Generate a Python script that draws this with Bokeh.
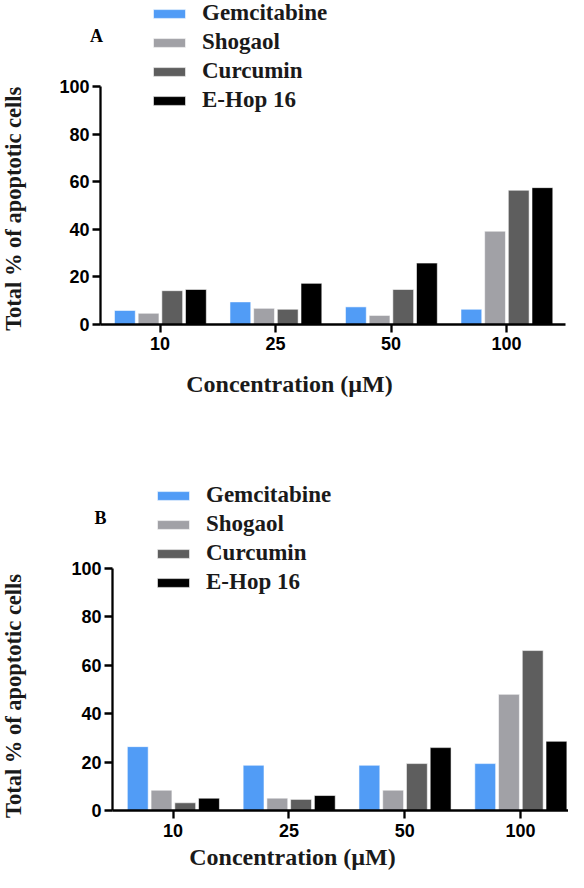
import math
from bokeh.plotting import figure
from bokeh.models import Range1d, FixedTicker, Label
from bokeh.layouts import column
from bokeh.embed import file_html
from bokeh.resources import INLINE

# ---- data ----
categories = ["10", "25", "50", "100"]
series_names = ["Gemcitabine", "Shogaol", "Curcumin", "E-Hop 16"]
series_colors = ["#519cf6", "#a1a1a6", "#5e5e5e", "#000000"]

a_gemcitabine = [5.9, 9.5, 7.4, 6.4]
a_shogaol = [4.7, 6.8, 3.8, 39.2]
a_curcumin = [14.2, 6.4, 14.7, 56.4]
a_ehop16 = [14.7, 17.3, 25.8, 57.5]

b_gemcitabine = [26.4, 18.7, 18.7, 19.4]
b_shogaol = [8.4, 5.1, 8.4, 48.0]
b_curcumin = [3.2, 4.6, 19.4, 66.1]
b_ehop16 = [5.1, 6.2, 26.0, 28.6]

y_ticks = [0, 20, 40, 60, 80, 100]

x_title = "Concentration (\u00b5M)"
y_title = "Total % of  apoptotic cells"

SERIF = "Liberation Serif"
SANS = "Liberation Sans"

offsets = [-0.305, -0.1, 0.105, 0.31]
bar_w = 0.18


def make_panel(series, letter, height, xr, yr, axis_x, x_end, letter_pos,
               ylab_pos, xlab_pos, legend_loc):
    p = figure(width=568, height=height, title=None,
               x_range=Range1d(*xr), y_range=Range1d(*yr),
               output_backend="svg", toolbar_location=None,
               min_border_left=0, min_border_right=0,
               min_border_top=0, min_border_bottom=0)
    positions = list(range(1, len(categories) + 1))
    for vals, name, col, off in zip(series, series_names, series_colors, offsets):
        p.vbar(x=[x + off for x in positions], top=vals, bottom=0, width=bar_w,
               fill_color=col, line_color="white", line_alpha=0.55, line_width=1,
               legend_label=name)
    p.outline_line_color = None
    p.xgrid.visible = False
    p.ygrid.visible = False
    p.background_fill_color = "white"
    p.border_fill_color = "white"

    p.xaxis.ticker = FixedTicker(ticks=positions)
    p.xaxis.major_label_overrides = {x: c for x, c in zip(positions, categories)}
    p.xaxis.fixed_location = 0
    p.xaxis.bounds = (axis_x, x_end)
    p.yaxis.ticker = FixedTicker(ticks=y_ticks)
    p.yaxis.fixed_location = axis_x
    p.yaxis.bounds = (0, 100)
    for ax in (p.xaxis, p.yaxis):
        ax.axis_line_width = 2.3
        ax.axis_line_color = "black"
        ax.major_tick_line_width = 2.3
        ax.major_tick_line_color = "black"
        ax.major_tick_in = 0
        ax.major_tick_out = 8
        ax.minor_tick_line_color = None
        ax.major_label_text_font = SANS
        ax.major_label_text_font_style = "bold"
        ax.major_label_text_font_size = "18px"
        ax.major_label_text_color = "black"
    p.xaxis.major_label_standoff = 5
    p.yaxis.major_label_standoff = 3

    p.add_layout(Label(x=letter_pos[0], y=letter_pos[1], text=letter,
                       text_align="center", text_baseline="middle",
                       text_font=SERIF, text_font_style="bold",
                       text_font_size="18px", text_color="black"))
    p.add_layout(Label(x=ylab_pos[0], y=ylab_pos[1], text=y_title, angle=math.pi / 2,
                       text_align="center", text_baseline="middle",
                       text_font=SERIF, text_font_style="bold",
                       text_font_size="22.5px", text_color="#1a1a1a"))
    p.add_layout(Label(x=xlab_pos[0], y=xlab_pos[1], text=x_title,
                       text_align="center", text_baseline="middle",
                       text_font=SERIF, text_font_style="bold",
                       text_font_size="24px", text_color="#1a1a1a"))

    lg = p.legend[0]
    lg.location = legend_loc
    lg.border_line_color = None
    lg.background_fill_alpha = 0
    lg.padding = 0
    lg.margin = 0
    lg.spacing = 3
    lg.glyph_width = 40
    lg.glyph_height = 11
    lg.label_standoff = 13
    lg.label_text_font = SERIF
    lg.label_text_font_style = "bold"
    lg.label_text_font_size = "23px"
    lg.label_text_color = "#1a1a1a"
    lg.label_text_baseline = "middle"
    return p


pA = make_panel([a_gemcitabine, a_shogaol, a_curcumin, a_ehop16], "A", 432,
                (-0.382, 4.536), (-45.38, 136.13), 0.484, 4.51,
                (0.449, 121.2), (-0.268, 49.8), (2.12, -24.8), (149, 319))
pB = make_panel([b_gemcitabine, b_shogaol, b_curcumin, b_ehop16], "B", 440,
                (-0.490, 4.414), (-25.6, 156.2), 0.477, 4.414,
                (0.373, 120.7), (-0.375, 48.5), (2.031, -19.4), (153, 277))

layout = column(pA, pB, spacing=0)
open("out.html", "w").write(file_html(layout, INLINE))
